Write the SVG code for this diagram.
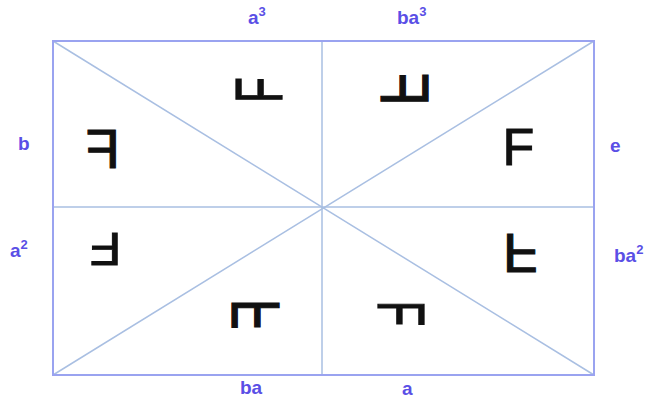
<svg xmlns="http://www.w3.org/2000/svg" width="655" height="410" viewBox="0 0 655 410">
<style>
.bg{fill:#ffffff}
.frame{fill:none;stroke:#9aa3f0;stroke-width:2}
.ln{stroke:#a9bfe2;stroke-width:1.5;fill:none}
.f{font-family:"Liberation Sans",Arial,sans-serif;font-size:52px;fill:#111111;stroke:#111111;stroke-width:1;text-anchor:middle}
.lbl{font-family:"Liberation Sans",Arial,sans-serif;font-size:19px;font-weight:bold;fill:#5a4fe6}
.sup{font-size:13px}
</style>
<rect class="bg" x="0" y="0" width="655" height="410"/>
<g id="connectors">
<line class="ln" x1="53" y1="41" x2="594" y2="375"/>
<line class="ln" x1="594" y1="41" x2="53" y2="375"/>
<line class="ln" x1="322" y1="41" x2="322" y2="375"/>
<line class="ln" x1="53" y1="207" x2="594" y2="207"/>
<rect class="frame" x="53" y="41" width="541" height="334"/>
</g>
<g id="f-a3" transform="translate(258,89.5) rotate(-90) scale(0.8,1.27)"><text class="f" x="-0.7" y="18.6">F</text></g>
<g id="f-ba3" transform="translate(405.5,88.5) matrix(0,-1,-1,0,0,0) scale(1.04,1.32)"><text class="f" x="-0.7" y="18.6">F</text></g>
<g id="f-b" transform="translate(102,148) scale(-1.08,1.08)"><text class="f" x="-0.7" y="18.6">F</text></g>
<g id="f-e" transform="translate(519,146.5)"><text class="f" x="-0.7" y="18.6">F</text></g>
<g id="f-a2" transform="translate(105,249.5) rotate(180) scale(1,0.9)"><text class="f" x="-0.7" y="18.6">F</text></g>
<g id="f-ba2" transform="translate(521,253.5) scale(1.1,-1.05)"><text class="f" x="-0.7" y="18.6">F</text></g>
<g id="f-ba" transform="translate(254.5,315) matrix(0,1,1,0,0,0) scale(0.96,1.32)"><text class="f" x="-0.7" y="18.6">F</text></g>
<g id="f-a" transform="translate(402,314) rotate(90) scale(0.8,1.3)"><text class="f" x="-0.7" y="18.6">F</text></g>
<g id="lbl-a3"><text class="lbl" x="248" y="24">a<tspan class="sup" dy="-8">3</tspan></text></g>
<g id="lbl-ba3"><text class="lbl" x="397" y="24">ba<tspan class="sup" dy="-8">3</tspan></text></g>
<g id="lbl-b"><text class="lbl" x="18" y="150">b</text></g>
<g id="lbl-e"><text class="lbl" x="610" y="152">e</text></g>
<g id="lbl-a2"><text class="lbl" x="10" y="257">a<tspan class="sup" dy="-8">2</tspan></text></g>
<g id="lbl-ba2"><text class="lbl" x="614" y="262">ba<tspan class="sup" dy="-8">2</tspan></text></g>
<g id="lbl-ba"><text class="lbl" x="240" y="394">ba</text></g>
<g id="lbl-a"><text class="lbl" x="402" y="395">a</text></g>
</svg>
